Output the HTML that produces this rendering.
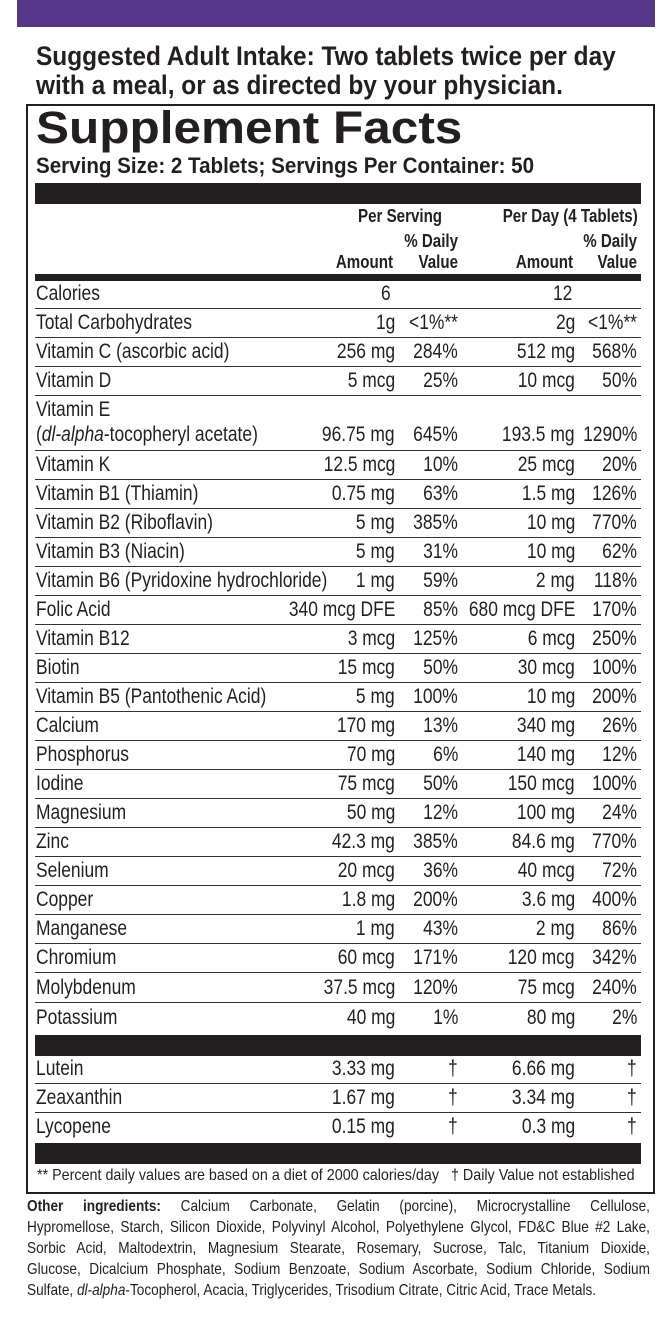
<!DOCTYPE html>
<html><head><meta charset="utf-8"><style>
*{margin:0;padding:0;box-sizing:border-box}
body{width:668px;height:1336px;background:#fff;position:relative;overflow:hidden;font-family:"Liberation Sans",sans-serif;color:#231f20}
.a{position:absolute;white-space:nowrap}
.purple{left:17px;top:0;width:638px;height:27px;background:#573787}
.intake{left:36px;font-weight:bold;font-size:27px;line-height:28px;transform:scaleX(.905);transform-origin:left}
.box{left:26px;top:104px;width:629px;height:1090px;border:2px solid #231f20}
.title{left:36px;top:103px;font-weight:bold;font-size:45px;line-height:50px;transform:scaleX(1.1);transform-origin:left}
.serv{left:36px;top:153px;font-weight:bold;font-size:22px;line-height:26px;transform:scaleX(.935);transform-origin:left}
.bar{left:35px;width:606px;background:#231f20}
.hd{font-weight:bold;font-size:18px;line-height:20px;transform:scaleX(.84);transform-origin:right}
.row{left:35px;width:606px;height:29px;border-bottom:1.5px solid #333;font-size:21px;line-height:28px}
.row span{position:absolute;top:0;transform:scaleX(.83);transform-origin:right}
.row span.n{left:1px;transform-origin:left}
.c1{right:246px}.c2{right:183px}.c3{right:66px}.c4{right:4px}
.foot{left:37px;top:1165px;font-size:16px;line-height:22px;transform:scaleX(.895);transform-origin:left}
.ing{left:27px;width:732px;font-size:16px;line-height:21px;transform:scaleX(.851);transform-origin:left;text-align:justify;text-align-last:justify}
</style></head><body>
<div class="a purple"></div>
<div class="a intake" style="top:42px">Suggested Adult Intake: Two tablets twice per day</div>
<div class="a intake" style="top:71px">with a meal, or as directed by your physician.</div>
<div class="a box"></div>
<div class="a title">Supplement Facts</div>
<div class="a serv">Serving Size: 2 Tablets; Servings Per Container: 50</div>
<div class="a bar" style="top:183px;height:21px"></div>
<div class="a hd" style="right:226px;top:206px">Per Serving</div>
<div class="a hd" style="right:30px;top:206px">Per Day (4 Tablets)</div>
<div class="a hd" style="right:210px;top:231px">% Daily</div>
<div class="a hd" style="right:31px;top:231px">% Daily</div>
<div class="a hd" style="right:275px;top:252px">Amount</div>
<div class="a hd" style="right:210px;top:252px">Value</div>
<div class="a hd" style="right:95px;top:252px">Amount</div>
<div class="a hd" style="right:31px;top:252px">Value</div>
<div class="a bar" style="top:274px;height:7px"></div>

<div class="a row" style="top:280px"><span class="n">Calories</span><span style="right:250px">6</span><span style="right:69px">12</span></div>
<div class="a row" style="top:309px"><span class="n">Total Carbohydrates</span><span class="c1">1g</span><span class="c2">&lt;1%**</span><span class="c3">2g</span><span class="c4">&lt;1%**</span></div>
<div class="a row" style="top:338px"><span class="n">Vitamin C (ascorbic acid)</span><span class="c1">256 mg</span><span class="c2">284%</span><span class="c3">512 mg</span><span class="c4">568%</span></div>
<div class="a row" style="top:367px"><span class="n">Vitamin D</span><span class="c1">5 mcg</span><span class="c2">25%</span><span class="c3">10 mcg</span><span class="c4">50%</span></div>
<div class="a row" style="top:396px;height:55px"><span class="n">Vitamin E</span><span class="n" style="top:25px">(<i>dl-alpha</i>-tocopheryl acetate)</span><span class="c1" style="top:25px">96.75 mg</span><span class="c2" style="top:25px">645%</span><span class="c3" style="top:25px">193.5 mg</span><span class="c4" style="top:25px">1290%</span></div>
<div class="a row" style="top:451px"><span class="n">Vitamin K</span><span class="c1">12.5 mcg</span><span class="c2">10%</span><span class="c3">25 mcg</span><span class="c4">20%</span></div>
<div class="a row" style="top:480px"><span class="n">Vitamin B1 (Thiamin)</span><span class="c1">0.75 mg</span><span class="c2">63%</span><span class="c3">1.5 mg</span><span class="c4">126%</span></div>
<div class="a row" style="top:509px"><span class="n">Vitamin B2 (Riboflavin)</span><span class="c1">5 mg</span><span class="c2">385%</span><span class="c3">10 mg</span><span class="c4">770%</span></div>
<div class="a row" style="top:538px"><span class="n">Vitamin B3 (Niacin)</span><span class="c1">5 mg</span><span class="c2">31%</span><span class="c3">10 mg</span><span class="c4">62%</span></div>
<div class="a row" style="top:567px"><span class="n">Vitamin B6 (Pyridoxine hydrochloride)</span><span class="c1">1 mg</span><span class="c2">59%</span><span class="c3">2 mg</span><span class="c4">118%</span></div>
<div class="a row" style="top:596px"><span class="n">Folic Acid</span><span class="c1">340 mcg DFE</span><span class="c2">85%</span><span class="c3">680 mcg DFE</span><span class="c4">170%</span></div>
<div class="a row" style="top:625px"><span class="n">Vitamin B12</span><span class="c1">3 mcg</span><span class="c2">125%</span><span class="c3">6 mcg</span><span class="c4">250%</span></div>
<div class="a row" style="top:654px"><span class="n">Biotin</span><span class="c1">15 mcg</span><span class="c2">50%</span><span class="c3">30 mcg</span><span class="c4">100%</span></div>
<div class="a row" style="top:683px"><span class="n">Vitamin B5 (Pantothenic Acid)</span><span class="c1">5 mg</span><span class="c2">100%</span><span class="c3">10 mg</span><span class="c4">200%</span></div>
<div class="a row" style="top:712px"><span class="n">Calcium</span><span class="c1">170 mg</span><span class="c2">13%</span><span class="c3">340 mg</span><span class="c4">26%</span></div>
<div class="a row" style="top:741px"><span class="n">Phosphorus</span><span class="c1">70 mg</span><span class="c2">6%</span><span class="c3">140 mg</span><span class="c4">12%</span></div>
<div class="a row" style="top:770px"><span class="n">Iodine</span><span class="c1">75 mcg</span><span class="c2">50%</span><span class="c3">150 mcg</span><span class="c4">100%</span></div>
<div class="a row" style="top:799px"><span class="n">Magnesium</span><span class="c1">50 mg</span><span class="c2">12%</span><span class="c3">100 mg</span><span class="c4">24%</span></div>
<div class="a row" style="top:828px"><span class="n">Zinc</span><span class="c1">42.3 mg</span><span class="c2">385%</span><span class="c3">84.6 mg</span><span class="c4">770%</span></div>
<div class="a row" style="top:857px"><span class="n">Selenium</span><span class="c1">20 mcg</span><span class="c2">36%</span><span class="c3">40 mcg</span><span class="c4">72%</span></div>
<div class="a row" style="top:886px"><span class="n">Copper</span><span class="c1">1.8 mg</span><span class="c2">200%</span><span class="c3">3.6 mg</span><span class="c4">400%</span></div>
<div class="a row" style="top:915px"><span class="n">Manganese</span><span class="c1">1 mg</span><span class="c2">43%</span><span class="c3">2 mg</span><span class="c4">86%</span></div>
<div class="a row" style="top:944px"><span class="n">Chromium</span><span class="c1">60 mcg</span><span class="c2">171%</span><span class="c3">120 mcg</span><span class="c4">342%</span></div>
<div class="a row" style="top:974px"><span class="n">Molybdenum</span><span class="c1">37.5 mcg</span><span class="c2">120%</span><span class="c3">75 mcg</span><span class="c4">240%</span></div>
<div class="a row" style="top:1004px;border-bottom:none"><span class="n">Potassium</span><span class="c1">40 mg</span><span class="c2">1%</span><span class="c3">80 mg</span><span class="c4">2%</span></div>
<div class="a bar" style="top:1035px;height:21px"></div>
<div class="a row" style="top:1055px"><span class="n">Lutein</span><span class="c1">3.33 mg</span><span class="c2">†</span><span class="c3">6.66 mg</span><span class="c4">†</span></div>
<div class="a row" style="top:1084px"><span class="n">Zeaxanthin</span><span class="c1">1.67 mg</span><span class="c2">†</span><span class="c3">3.34 mg</span><span class="c4">†</span></div>
<div class="a row" style="top:1113px;border-bottom:none"><span class="n">Lycopene</span><span class="c1">0.15 mg</span><span class="c2">†</span><span class="c3">0.3 mg</span><span class="c4">†</span></div>
<div class="a bar" style="top:1143px;height:21px"></div>
<div class="a foot">** Percent daily values are based on a diet of 2000 calories/day &nbsp;&nbsp;† Daily Value not established</div>
<div class="a ing" style="top:1196px"><b>Other ingredients:</b> Calcium Carbonate, Gelatin (porcine), Microcrystalline Cellulose,</div>
<div class="a ing" style="top:1217px">Hypromellose, Starch, Silicon Dioxide, Polyvinyl Alcohol, Polyethylene Glycol, FD&amp;C Blue #2 Lake,</div>
<div class="a ing" style="top:1238px">Sorbic Acid, Maltodextrin, Magnesium Stearate, Rosemary, Sucrose, Talc, Titanium Dioxide,</div>
<div class="a ing" style="top:1259px">Glucose, Dicalcium Phosphate, Sodium Benzoate, Sodium Ascorbate, Sodium Chloride, Sodium</div>
<div class="a ing" style="top:1280px;text-align-last:left">Sulfate, <i>dl-alpha</i>-Tocopherol, Acacia, Triglycerides, Trisodium Citrate, Citric Acid, Trace Metals.</div>
</body></html>
